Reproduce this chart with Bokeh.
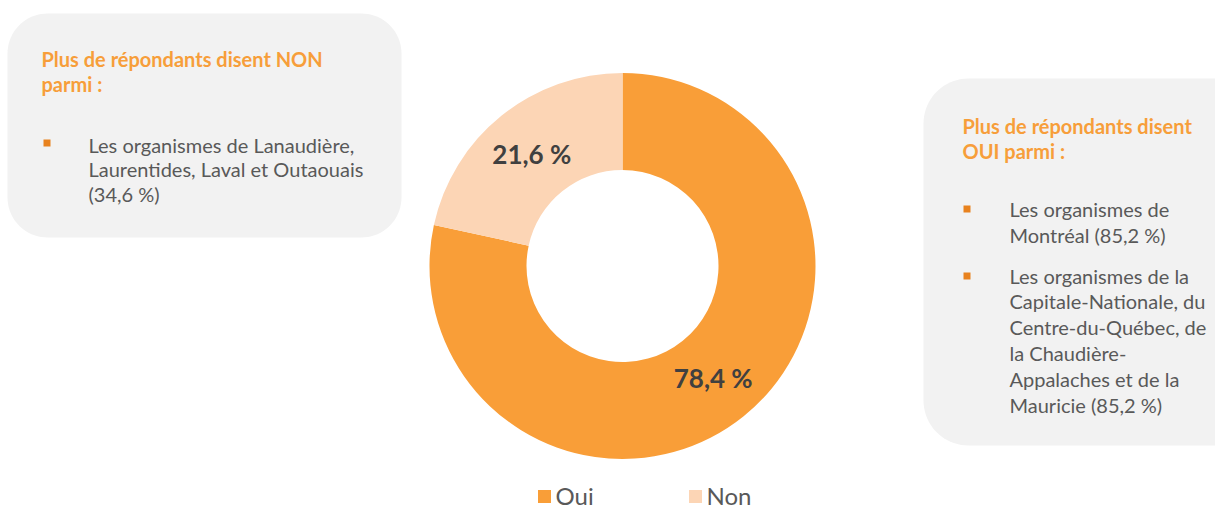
import numpy as np
from bokeh.plotting import figure
from bokeh.models import Range1d, ColumnDataSource
from bokeh.core.properties import value
from bokeh.embed import file_html
from bokeh.resources import INLINE

# ---- data ----
categories = ["Oui", "Non"]
values = [78.4, 21.6]
value_labels = ["78,4 %", "21,6 %"]
colors = ["#F99E38", "#FCD5B5"]

left_title = ["Plus de répondants disent NON", "parmi :"]
left_bullets = [["Les organismes de Lanaudière,", "Laurentides, Laval et Outaouais", "(34,6 %)"]]
right_title = ["Plus de répondants disent", "OUI parmi :"]
right_bullets = [["Les organismes de", "Montréal (85,2 %)"],
                 ["Les organismes de la", "Capitale-Nationale, du", "Centre-du-Québec, de",
                  "la Chaudière-", "Appalaches et de la", "Mauricie (85,2 %)"]]

FONT = "Lato"
ORANGE_T = "#F79E3A"
BULLET = "#E8821E"
GREY_T = "#595959"
BOX = "#F2F2F2"

W, H = 1215, 509
p = figure(width=W, height=H, x_range=Range1d(0, W), y_range=Range1d(0, H),
           output_backend="svg", toolbar_location=None, min_border=0,
           x_axis_location=None, y_axis_location=None)
p.grid.visible = False
p.outline_line_color = None
p.background_fill_color = "white"


def Y(sy):
    return H - sy


def rounded(x0, y0, x1, y1, r, n=20):
    xs, ys = [], []
    corners = [(x1 - r, y0 + r, -90, 0), (x1 - r, y1 - r, 0, 90),
               (x0 + r, y1 - r, 90, 180), (x0 + r, y0 + r, 180, 270)]
    for cx, cy, a0, a1 in corners:
        t = np.radians(np.linspace(a0, a1, n))
        xs += list(cx + r * np.cos(t))
        ys += list(Y(cy + r * np.sin(t)))
    return xs, ys


# boxes
for (x0, y0, x1, y1, r) in [(7, 13, 401, 237, 40), (923, 78, 1270, 445, 45)]:
    xs, ys = rounded(x0, y0, x1, y1, r)
    p.patch(xs, ys, fill_color=BOX, line_color=None)

# donut
cx, cy = 622, Y(265.5)
r_out, r_in = 193, 96
frac = np.array(values) / sum(values)
cum = np.concatenate([[0], np.cumsum(frac)])
starts = np.pi / 2 - 2 * np.pi * cum[:-1]
ends = np.pi / 2 - 2 * np.pi * cum[1:]
src = ColumnDataSource(dict(cat=categories, start=starts, end=ends, color=colors,
                            x=[cx] * 2, y=[cy] * 2))
p.annular_wedge(x="x", y="y", inner_radius=r_in, outer_radius=r_out,
                start_angle="start", end_angle="end", direction="clock",
                fill_color="color", line_color=None, source=src)
mid = (starts + ends) / 2
rm = (r_in + r_out) / 2
p.text(x=list(cx + rm * np.cos(mid)), y=list(cy + rm * np.sin(mid)), text=value_labels,
       text_font=value(FONT), text_font_style="bold", text_font_size="26px",
       text_color="#404040", text_align="center", text_baseline="middle")

TS = "20px"
OFF = 8  # baseline -> em middle

# left box texts
p.text(x=[41, 41], y=[Y(66 - OFF), Y(91 - OFF)], text=left_title, text_font=value(FONT),
       text_font_style="bold", text_font_size=TS, text_color=ORANGE_T,
       text_baseline="middle")
lines = left_bullets[0]
p.text(x=[88] * len(lines), y=[Y(152 - OFF + 24.5 * i) for i in range(len(lines))], text=lines,
       text_font=value(FONT), text_font_size=TS, text_color=GREY_T,
       text_baseline="middle")
p.scatter(x=[46.5], y=[Y(142.5)], marker="square", size=7, fill_color=BULLET, line_color=None)

# right box texts
p.text(x=[962, 962], y=[Y(133 - OFF), Y(158 - OFF)], text=right_title, text_font=value(FONT),
       text_font_style="bold", text_font_size=TS, text_color=ORANGE_T,
       text_baseline="middle")
base = [216.5, 283]
for b0, lines in zip(base, right_bullets):
    p.text(x=[1009] * len(lines), y=[Y(b0 - OFF + 25.9 * i) for i in range(len(lines))],
           text=lines, text_font=value(FONT), text_font_size=TS, text_color=GREY_T,
           text_baseline="middle")
p.scatter(x=[966.5, 966.5], y=[Y(208.5), Y(275.5)], marker="square", size=7,
          fill_color=BULLET, line_color=None)

# legend (drawn manually)
leg_x = [544, 695]
leg_y = Y(496)
p.scatter(x=leg_x, y=[leg_y] * 2, marker="square", size=13, fill_color=colors, line_color=None)
p.text(x=[x + 11 for x in leg_x], y=[Y(495)] * 2, text=categories, text_font=value(FONT),
       text_font_size="24px", text_color=GREY_T, text_baseline="middle")

open("out.html", "w").write(file_html(p, INLINE))
